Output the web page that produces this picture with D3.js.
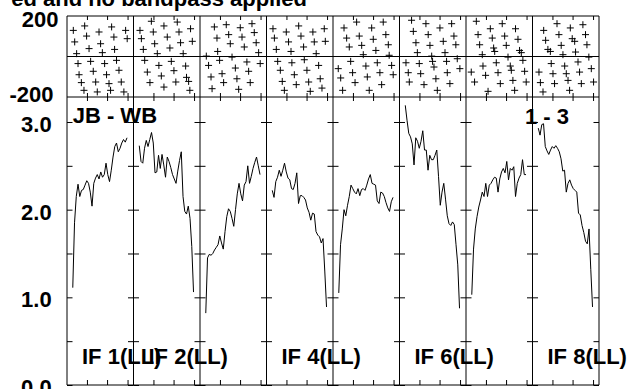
<!DOCTYPE html>
<html><head><meta charset="utf-8">
<script src="https://cdn.jsdelivr.net/npm/d3@7"></script>
<style>
html,body{margin:0;padding:0;background:#fff;}
svg{display:block;}
text{font-family:"Liberation Sans",Arial,Helvetica,sans-serif;font-weight:bold;fill:#000;}
</style></head>
<body>
<svg id="c" width="634" height="389"></svg>
<script>
// ---------- data ----------
const categories = ["IF 1","IF 2","IF 3","IF 4","IF 5","IF 6","IF 7","IF 8"];
const ifLabels   = ["IF 1(LL)","IF 2(LL)",null,"IF 4(LL)",null,"IF 6(LL)",null,"IF 8(LL)"];
const titleText  = "ed and no bandpass applied";
const baselineLabel = "JB - WB";
const timeLabel  = "1 - 3";
const ampTicks   = [0, 0.5, 1, 1.5, 2, 2.5, 3];
const ampLabels  = [0, 1, 2, 3];
const phaseLabels = [200, -200];
const chanTicks  = [9.1, 20.6, 32.3];

// amplitude per channel (channels 1..32)
const amp1 = [1.11,1.85,2.15,2.29,2.15,2.22,2.23,2.28,2.33,2.30,2.20,2.04,2.30,2.36,2.40,2.35,2.43,2.37,2.40,2.53,2.40,2.32,2.45,2.60,2.72,2.76,2.66,2.70,2.76,2.80,2.77,2.82];
const amp2 = [2.73,2.55,2.53,2.70,2.79,2.72,2.80,2.88,2.76,2.42,2.43,2.62,2.47,2.63,2.51,2.37,2.60,2.55,2.48,2.40,2.35,2.30,2.44,2.56,2.66,2.15,1.98,1.95,2.04,1.90,1.58,1.06];
const amp3 = [0.82,1.45,1.49,1.48,1.50,1.54,1.57,1.60,1.70,1.62,1.55,1.75,1.92,2.01,1.98,1.90,1.81,2.00,2.18,2.30,2.18,2.10,2.28,2.32,2.50,2.30,2.38,2.47,2.54,2.60,2.50,2.40];
const amp4 = [2.22,2.14,2.32,2.37,2.45,2.38,2.45,2.53,2.43,2.36,2.34,2.24,2.23,2.30,2.42,2.07,2.16,2.16,2.14,2.11,2.02,1.97,1.88,1.96,1.95,1.75,1.71,1.69,1.62,1.67,1.30,0.89];
const amp5 = [1.05,1.60,1.78,2.00,1.93,2.05,2.15,2.28,2.24,2.20,2.18,2.24,2.16,2.23,2.24,2.22,2.28,2.35,2.40,2.30,2.29,2.28,2.10,2.07,2.20,2.19,2.15,2.08,2.02,1.98,2.09,2.14];
const amp6 = [3.19,3.02,2.87,2.83,2.75,2.51,2.82,2.78,2.70,2.78,2.90,2.68,2.68,2.45,2.62,2.57,2.57,2.62,2.68,2.38,2.05,2.20,2.30,2.12,1.93,1.84,1.82,1.86,1.83,1.60,1.37,0.875];
const amp7 = [1.03,1.55,1.78,1.92,2.03,2.11,2.20,2.15,2.30,2.15,2.28,2.30,2.34,2.37,2.36,2.20,2.35,2.43,2.47,2.42,2.55,2.34,2.47,2.45,2.49,2.15,2.30,2.36,2.40,2.57,2.40,2.40];
const amp8 = [2.93,2.85,2.97,2.98,2.72,2.67,2.63,2.68,2.72,2.70,2.73,2.70,2.66,2.58,2.44,2.45,2.20,2.30,2.34,2.28,2.24,2.22,2.20,1.96,1.94,1.82,1.74,1.64,1.61,1.78,1.32,0.89];

// phase points [channel, degrees]
const phase1 = [[1.3,129],[7.8,151],[16.0,121],[23.2,146],[31.2,129],[2.1,72],[8.9,101],[16.9,63],[24.5,96],[32.1,88],[3.2,14],[10.3,39],[17.9,19],[24.9,35],[4.0,-35],[11.2,-24],[19.2,-35],[26.0,-19],[4.6,-90],[12.7,-73],[20.3,-90],[27.4,-68],[5.9,-129],[14.1,-126],[21.7,-134],[28.7,-126],[7.4,-167],[15.0,-175],[22.6,-167],[30.2,-175]];
const phase2 = [[7.9,174],[15.1,151],[22.7,170],[1.4,129],[9.0,121],[23.7,121],[30.3,137],[2.2,88],[17.0,96],[24.6,68],[31.3,75],[9.8,63],[3.3,35],[11.3,14],[18.5,42],[26.1,14],[4.1,-19],[12.2,-44],[19.3,-24],[27.5,-47],[5.6,-77],[13.6,-96],[20.8,-70],[28.0,-103],[7.1,-129],[15.1,-151],[21.9,-126],[29.2,-123],[29.9,-167]];
const phase3 = [[5.9,146],[12.7,157],[20.7,142],[27.4,162],[7.4,91],[14.1,108],[21.7,96],[28.7,118],[15.0,63],[23.0,47],[29.8,68],[7.8,25],[31.2,19],[1.3,2],[8.9,-19],[16.0,-3],[24.5,-27],[32.1,-35],[2.6,-44],[17.9,-57],[25.5,-73],[10.3,-85],[4.0,-101],[18.8,-110],[11.2,-129],[26.4,-129],[4.6,-159],[19.8,-162]];
const phase4 = [[1.4,137],[9.0,121],[16.1,151],[24.2,121],[30.7,137],[2.2,91],[10.3,72],[17.4,101],[25.0,72],[31.3,75],[3.3,35],[11.7,25],[18.9,47],[26.1,14],[4.1,-24],[12.2,-31],[19.3,-16],[27.5,-44],[5.6,-68],[13.6,-90],[20.8,-68],[28.4,-110],[6.7,-123],[14.7,-139],[21.8,-126],[29.4,-156],[7.9,-167],[22.7,-172]];
const phase5 = [[11.2,170],[26.4,170],[4.0,141],[19.8,141],[5.5,91],[12.7,101],[20.7,85],[27.9,108],[7.0,47],[14.1,55],[22.2,30],[29.3,58],[15.0,9],[29.8,6],[7.8,-24],[0.7,-60],[16.5,-47],[23.0,-31],[31.2,-44],[8.9,-80],[2.1,-106],[17.3,-101],[24.5,-80],[32.1,-90],[10.3,-129],[25.5,-139],[3.2,-167],[18.4,-167]];
const phase6 = [[4.6,179],[12.8,162],[20.8,141],[27.5,162],[5.6,124],[14.1,108],[28.8,101],[7.1,68],[15.1,55],[22.7,75],[29.9,58],[7.9,19],[16.1,2],[23.7,19],[1.4,-31],[9.0,-35],[16.6,-24],[24.6,-24],[30.7,-11],[2.7,-80],[9.8,-85],[17.4,-52],[25.0,-80],[32.2,-60],[3.3,-126],[11.7,-139],[18.5,-110],[26.5,-134],[19.3,-167]];
const phase7 = [[3.6,174],[18.4,162],[11.6,137],[26.0,137],[4.6,108],[12.7,91],[19.8,101],[27.4,85],[5.5,58],[13.5,42],[20.7,55],[28.3,30],[7.0,9],[14.1,25],[21.7,-3],[29.3,19],[7.4,-47],[15.0,-31],[23.0,-47],[30.2,-19],[0.7,-77],[8.9,-93],[16.0,-80],[23.6,-68],[31.2,-73],[2.6,-126],[17.3,-134],[24.5,-118],[32.1,-126],[10.3,-172],[25.5,-167]];
const phase8 = [[11.7,162],[4.1,129],[19.3,141],[26.5,157],[5.2,80],[12.8,108],[20.4,88],[28.0,108],[6.5,35],[14.1,55],[21.8,75],[28.8,58],[7.9,25],[15.1,9],[22.3,22],[29.9,-3],[8.4,-35],[16.1,-47],[23.7,-27],[1.4,-77],[9.4,-85],[17.0,-85],[24.6,-77],[31.3,-60],[2.2,-129],[10.3,-134],[18.0,-118],[25.6,-134],[32.6,-126],[3.7,-175],[18.9,-167]];

const ampSeries = [amp1,amp2,amp3,amp4,amp5,amp6,amp7,amp8];
const phaseSeries = [phase1,phase2,phase3,phase4,phase5,phase6,phase7,phase8];

// ---------- scales ----------
const svg = d3.select("#c");
const panelX = d3.scaleBand().domain(categories).range([67, 599]).padding(0);
const bw = panelX.bandwidth();
const xCh = d3.scaleLinear().domain([-2.3, 35.7]).range([0, bw]);
const yAmp = d3.scaleLinear().domain([0, 3.285]).range([385, 97]);
const yPh = d3.scaleLinear().domain([-200, 200]).range([97, 16]);

// ---------- title ----------
svg.append("text").attr("x", 307).attr("y", 6).attr("text-anchor","end")
  .style("font-size","22px").text(titleText);

// ---------- panels ----------
categories.forEach((c, i) => {
  const g = svg.append("g").attr("transform", `translate(${panelX(c)},0)`);
  // amplitude y ticks (left & right, inward)
  const aL = g.append("g").call(d3.axisRight(yAmp).tickValues(ampTicks).tickSize(5.5).tickFormat(""));
  const aR = g.append("g").attr("transform", `translate(${bw},0)`).call(d3.axisLeft(yAmp).tickValues(ampTicks).tickSize(5.5).tickFormat(""));
  [aL, aR].forEach(a => { a.select(".domain").remove(); a.selectAll("line").attr("stroke","#000"); });
  // channel ticks
  const tks = [
    g.append("g").attr("transform","translate(0,16)").call(d3.axisBottom(xCh).tickValues(chanTicks).tickSize(4).tickFormat("")),
    g.append("g").attr("transform","translate(0,97)").call(d3.axisTop(xCh).tickValues(chanTicks).tickSize(4).tickFormat("")),
    g.append("g").attr("transform","translate(0,97)").call(d3.axisBottom(xCh).tickValues(chanTicks).tickSize(4).tickFormat("")),
    g.append("g").attr("transform","translate(0,385)").call(d3.axisTop(xCh).tickValues(chanTicks).tickSize(5).tickFormat(""))
  ];
  tks.forEach(a => { a.select(".domain").remove(); a.selectAll("line").attr("stroke","#000"); });

  // phase crosses
  const s = 3.5;
  g.append("g").selectAll("path").data(phaseSeries[i]).join("path")
    .attr("d", d => {
      const x = xCh(d[0]), y = yPh(d[1]);
      return `M${x-s},${y}H${x+s}M${x},${y-s}V${y+s}`;
    })
    .attr("stroke","#000").attr("stroke-width",1).attr("fill","none");

  // amplitude line
  const line = d3.line().x((d, k) => xCh(k + 1)).y(d => yAmp(d));
  g.append("path").datum(ampSeries[i]).attr("d", line)
    .attr("fill","none").attr("stroke","#000").attr("stroke-width",1);

  // IF label
  if (ifLabels[i]) {
    g.append("text").attr("x", 15).attr("y", 364).style("font-size","22px").text(ifLabels[i]);
  }
});

// ---------- frame ----------
const frame = svg.append("g").attr("stroke","#000").attr("stroke-width",1).attr("fill","none");
[16, yPh(0), 97, 385].forEach(y => {
  frame.append("line").attr("x1", 67).attr("x2", 599).attr("y1", y).attr("y2", y);
});
categories.concat(["end"]).forEach((c, i) => {
  const x = i < categories.length ? panelX(c) : panelX(categories[7]) + bw;
  frame.append("line").attr("x1", x).attr("x2", x).attr("y1", 16).attr("y2", 385);
});

// ---------- left labels ----------
svg.append("g").selectAll("text").data(ampLabels).join("text")
  .attr("x", 51.7).attr("y", d => yAmp(d) + 10).attr("text-anchor","end")
  .style("font-size","22px").text(d3.format(".1f"));
svg.append("text").attr("x", 58.5).attr("y", yPh(phaseLabels[0]) + 10.5).attr("text-anchor","end")
  .style("font-size","22px").text(phaseLabels[0]);
svg.append("text").attr("x", 53.5).attr("y", yPh(phaseLabels[1]) + 4.5).attr("text-anchor","end")
  .style("font-size","22px").text(phaseLabels[1]);

// ---------- in-plot labels ----------
svg.append("text").attr("x", 72.7).attr("y", 123.3).style("font-size","22px").text(baselineLabel);
svg.append("text").attr("x", 525).attr("y", 124).style("font-size","22px").text(timeLabel);
</script>
</body></html>
